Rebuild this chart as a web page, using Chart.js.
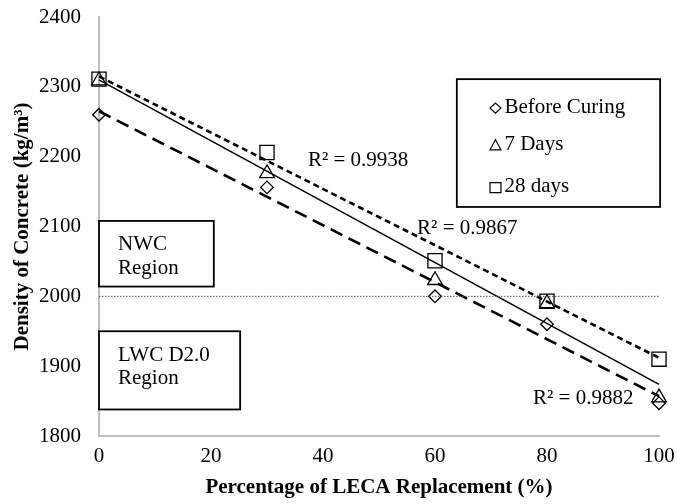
<!DOCTYPE html>
<html>
<head>
<meta charset="utf-8">
<script src="https://cdn.jsdelivr.net/npm/chart.js@4"></script>
<style>
  html, body { margin: 0; padding: 0; background: #fff; }
  #wrap { width: 677px; height: 504px; }
</style>
</head>
<body>
<div id="wrap"><canvas id="densityChart" width="677" height="504"></canvas></div>
<script>
// LECA replacement (%) and measured densities (kg/m3)
const replacement = [0, 30, 60, 80, 100];
const beforeCuring = [2260, 2156, 2000, 1960, 1847];
const days7 = [2309, 2176, 2023, 1990, 1855];
const days28 = [2311, 2206, 2051, 1993, 1910];

// linear trendline ends (at 0% and 100%)
const trendX = [0, 100];
const trendBefore = [2265, 1857];
const trend7 = [2310, 1874];
const trend28 = [2315, 1912];
const nwcLimit = [2000, 2000];

const seriesNames = ['Before Curing', '7 Days', '28 days'];
const r2Labels = ['R² = 0.9938', 'R² = 0.9867', 'R² = 0.9882'];

const FONT = '"Liberation Serif", "Times New Roman", serif';

function pts(xs, ys) {
  return xs.map((x, i) => ({x: x, y: ys[i]}));
}

function markerSet(label, ys, style, r) {
  return {
    label: label,
    data: pts(replacement, ys),
    showLine: false,
    clip: false,
    pointStyle: style,
    pointRadius: r,
    pointHoverRadius: r,
    pointBorderColor: '#000',
    pointBackgroundColor: 'rgba(0,0,0,0)',
    pointBorderWidth: 1.3
  };
}

function lineSet(ys, width, dash, color) {
  return {
    data: pts(trendX, ys),
    showLine: true,
    clip: false,
    borderColor: color || '#000',
    borderWidth: width,
    borderDash: dash,
    pointRadius: 0,
    fill: false
  };
}

// text boxes and labels, placed in data units
const boxes = [
  {x0: 0, x1: 20.5, y0: 2108, y1: 2014, lines: [['NWC', 3.4, 2074], ['Region', 3.4, 2040]]},
  {x0: 0, x1: 25.2, y0: 1950, y1: 1838, lines: [['LWC D2.0', 3.4, 1915], ['Region', 3.4, 1882]]}
];
const r2Pos = [[37.3, 2195], [56.8, 2097], [77.5, 1854]];
const legendBox = {x0: 63.9, x1: 100.2, y0: 2311, y1: 2128, symX: 70.8, textX: 72.4, rows: [2271, 2217, 2157]};
const legendStyles = ['rectRot', 'triangle', 'rect'];

function drawSymbol(ctx, style, x, y) {
  ctx.beginPath();
  if (style === 'rectRot') {
    ctx.moveTo(x, y - 5); ctx.lineTo(x + 5.5, y); ctx.lineTo(x, y + 5); ctx.lineTo(x - 5.5, y); ctx.closePath();
  } else if (style === 'triangle') {
    ctx.moveTo(x, y - 6); ctx.lineTo(x + 5.5, y + 4); ctx.lineTo(x - 5.5, y + 4); ctx.closePath();
  } else {
    ctx.rect(x - 5.5, y - 5, 11, 10);
  }
  ctx.stroke();
}

const notesPlugin = {
  id: 'notes',
  afterDatasetsDraw(chart) {
    const ctx = chart.ctx;
    const xs = chart.scales.x, ys = chart.scales.y;
    ctx.save();
    ctx.font = '21px ' + FONT;
    ctx.fillStyle = '#000';
    ctx.strokeStyle = '#000';
    ctx.textBaseline = 'middle';
    ctx.textAlign = 'left';

    boxes.forEach(b => {
      const l = xs.getPixelForValue(b.x0), r = xs.getPixelForValue(b.x1);
      const t = ys.getPixelForValue(b.y0), btm = ys.getPixelForValue(b.y1);
      ctx.fillStyle = '#fff';
      ctx.fillRect(l, t, r - l, btm - t);
      ctx.lineWidth = 1.8;
      ctx.strokeRect(l, t, r - l, btm - t);
      ctx.fillStyle = '#000';
      b.lines.forEach(ln => ctx.fillText(ln[0], xs.getPixelForValue(ln[1]), ys.getPixelForValue(ln[2])));
    });

    r2Labels.forEach((txt, i) => {
      ctx.fillText(txt, xs.getPixelForValue(r2Pos[i][0]), ys.getPixelForValue(r2Pos[i][1]));
    });

    const L = legendBox;
    const l = xs.getPixelForValue(L.x0), r = xs.getPixelForValue(L.x1);
    const t = ys.getPixelForValue(L.y0), btm = ys.getPixelForValue(L.y1);
    ctx.fillStyle = '#fff';
    ctx.fillRect(l, t, r - l, btm - t);
    ctx.lineWidth = 1.8;
    ctx.strokeRect(l, t, r - l, btm - t);
    ctx.fillStyle = '#000';
    seriesNames.forEach((name, i) => {
      const y = ys.getPixelForValue(L.rows[i]);
      ctx.lineWidth = 1.2;
      drawSymbol(ctx, legendStyles[i], xs.getPixelForValue(L.symX), y + 1);
      ctx.fillText(name, xs.getPixelForValue(L.textX), y);
    });
    ctx.restore();
  }
};

new Chart(document.getElementById('densityChart').getContext('2d'), {
  type: 'scatter',
  data: {
    datasets: [
      lineSet(nwcLimit, 1, [1.5, 1.5], '#555'),
      lineSet(trendBefore, 2.6, [13, 7]),
      lineSet(trend7, 1.5, []),
      lineSet(trend28, 2.6, [6, 4]),
      markerSet(seriesNames[0], beforeCuring, 'rectRot', 6.3),
      markerSet(seriesNames[1], days7, 'triangle', 8.5),
      markerSet(seriesNames[2], days28, 'rect', 10)
    ]
  },
  options: {
    responsive: false,
    animation: false,
    layout: {padding: {left: 0, right: 18, top: 17, bottom: 0}},
    plugins: {legend: {display: false}, tooltip: {enabled: false}},
    scales: {
      x: {
        type: 'linear',
        min: 0, max: 100,
        ticks: {stepSize: 20, color: '#000', padding: 8, font: {family: FONT, size: 21}},
        grid: {display: false, drawTicks: false},
        border: {display: true, color: '#bfbfbf', width: 2},
        title: {display: true, text: 'Percentage of LECA Replacement (%)', color: '#000',
                font: {family: FONT, size: 21, weight: 'bold'}, padding: {top: 0, bottom: 4}},
        afterFit(scale) {
          scale.height = 68;
          scale.paddingLeft = 8;
          scale.paddingRight = 8;
        }
      },
      y: {
        min: 1800, max: 2400,
        ticks: {stepSize: 100, color: '#000', padding: 18, font: {family: FONT, size: 21},
                callback: v => String(v)},
        grid: {display: false, drawTicks: false},
        border: {display: true, color: '#bfbfbf', width: 2},
        title: {display: true, text: 'Density of Concrete (kg/m³)', color: '#000',
                font: {family: FONT, size: 21, weight: 'bold'}, padding: {top: 10, bottom: 0}},
        afterFit(scale) {
          scale.width = 99;
          scale.paddingTop = 8;
          scale.paddingBottom = 8;
        }
      }
    }
  },
  plugins: [notesPlugin]
});
</script>
</body>
</html>
